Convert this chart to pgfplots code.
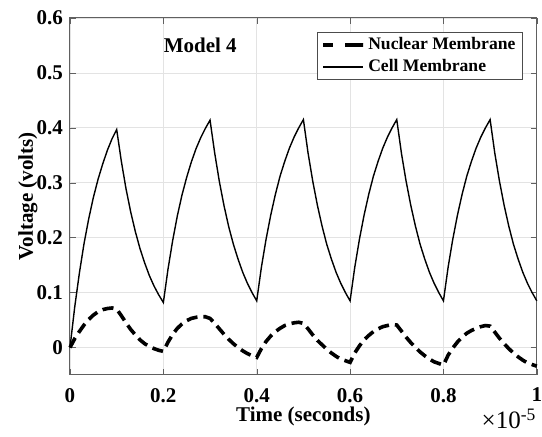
\documentclass[border=0pt]{standalone}
\usepackage{fontspec}
\setmainfont{Liberation Serif}
\usepackage{pgfplots}
\usepackage{pgfplotstable}
\pgfplotsset{compat=1.18}

% time in units of 1e-5 s
\pgfplotstableread{
t v
0.00 0.000
0.01 0.073
0.02 0.135
0.03 0.189
0.04 0.234
0.05 0.273
0.06 0.306
0.07 0.334
0.08 0.359
0.09 0.380
0.10 0.397
0.11 0.339
0.12 0.289
0.13 0.247
0.14 0.211
0.15 0.180
0.16 0.154
0.17 0.131
0.18 0.112
0.19 0.096
0.20 0.082
0.21 0.143
0.22 0.195
0.23 0.240
0.24 0.278
0.25 0.310
0.26 0.338
0.27 0.362
0.28 0.382
0.29 0.399
0.30 0.414
0.31 0.354
0.32 0.302
0.33 0.258
0.34 0.220
0.35 0.188
0.36 0.161
0.37 0.137
0.38 0.117
0.39 0.100
0.40 0.085
0.41 0.146
0.42 0.197
0.43 0.241
0.44 0.279
0.45 0.312
0.46 0.339
0.47 0.363
0.48 0.383
0.49 0.400
0.50 0.415
0.51 0.354
0.52 0.303
0.53 0.259
0.54 0.221
0.55 0.188
0.56 0.161
0.57 0.137
0.58 0.117
0.59 0.100
0.60 0.085
0.61 0.146
0.62 0.197
0.63 0.241
0.64 0.279
0.65 0.312
0.66 0.339
0.67 0.363
0.68 0.383
0.69 0.400
0.70 0.415
0.71 0.354
0.72 0.303
0.73 0.259
0.74 0.221
0.75 0.188
0.76 0.161
0.77 0.137
0.78 0.117
0.79 0.100
0.80 0.085
0.81 0.146
0.82 0.197
0.83 0.241
0.84 0.279
0.85 0.312
0.86 0.339
0.87 0.363
0.88 0.383
0.89 0.400
0.90 0.415
0.91 0.354
0.92 0.303
0.93 0.259
0.94 0.221
0.95 0.188
0.96 0.161
0.97 0.137
0.98 0.117
0.99 0.100
1.00 0.085
}\cell

\pgfplotstableread{
t v
0.00 0.000
0.01 0.016
0.02 0.029
0.03 0.041
0.04 0.051
0.05 0.059
0.06 0.065
0.07 0.069
0.08 0.071
0.09 0.072
0.10 0.070
0.11 0.058
0.12 0.045
0.13 0.033
0.14 0.023
0.15 0.014
0.16 0.007
0.17 0.002
0.18 -0.002
0.19 -0.005
0.20 -0.007
0.21 0.010
0.22 0.024
0.23 0.035
0.24 0.043
0.25 0.049
0.26 0.053
0.27 0.055
0.28 0.056
0.29 0.056
0.30 0.053
0.31 0.044
0.32 0.034
0.33 0.024
0.34 0.015
0.35 0.007
0.36 0.000
0.37 -0.006
0.38 -0.011
0.39 -0.015
0.40 -0.018
0.41 -0.002
0.42 0.011
0.43 0.021
0.44 0.029
0.45 0.035
0.46 0.040
0.47 0.043
0.48 0.045
0.49 0.046
0.50 0.044
0.51 0.034
0.52 0.023
0.53 0.013
0.54 0.005
0.55 -0.003
0.56 -0.010
0.57 -0.016
0.58 -0.021
0.59 -0.024
0.60 -0.027
0.61 -0.010
0.62 0.003
0.63 0.014
0.64 0.022
0.65 0.029
0.66 0.034
0.67 0.038
0.68 0.040
0.69 0.042
0.70 0.041
0.71 0.030
0.72 0.019
0.73 0.009
0.74 0.000
0.75 -0.008
0.76 -0.015
0.77 -0.021
0.78 -0.026
0.79 -0.029
0.80 -0.032
0.81 -0.014
0.82 -0.001
0.83 0.010
0.84 0.019
0.85 0.026
0.86 0.031
0.87 0.035
0.88 0.038
0.89 0.040
0.90 0.039
0.91 0.028
0.92 0.017
0.93 0.007
0.94 -0.002
0.95 -0.010
0.96 -0.017
0.97 -0.023
0.98 -0.028
0.99 -0.031
1.00 -0.034
}\nuclear

\begin{document}
\begin{tikzpicture}
\begin{axis}[
  at={(0,0)}, anchor=south west,
  scale only axis, width=233.4pt, height=178.5pt,
  xmin=0, xmax=1, ymin=-0.05, ymax=0.6, clip=false,
  xtick={0,0.2,0.4,0.6,0.8,1}, ytick={0,0.1,0.2,0.3,0.4,0.5,0.6},
  grid=major, major grid style={gray!22, line width=0.4pt},
  axis line style={gray!75!black, line width=0.5pt},
  tick style={gray!75!black}, tick align=inside, major tick length=3pt,
  /pgf/number format/assume math mode=true,
  ticklabel style={font=\bfseries\fontsize{10.5}{12}\selectfont},
  xticklabel style={yshift=-3pt},
  xlabel={Time (seconds)}, ylabel={Voltage (volts)},
  label style={font=\bfseries\fontsize{10.5}{12}\selectfont},
  xlabel style={at={(axis description cs:0.5,0)}, anchor=base, yshift=-23.4pt},
  ylabel style={at={(axis description cs:0,0.5)}, anchor=base, yshift=18.5pt},
  legend style={at={(0.970,0.9616)}, anchor=north east, draw=gray!60!black,
    font=\bfseries\fontsize{8.8}{10}\selectfont, inner xsep=2pt, inner ysep=1pt,
    row sep=0.5pt, nodes={inner sep=1.5pt}},
  legend cell align=left,
  legend image code/.code={\draw[#1] (0pt,0pt) -- (20pt,0pt);},
]
\addlegendimage{black, line width=1.8pt, dash pattern=on 5pt off 6pt on 9pt off 0pt}
\addlegendentry{Nuclear Membrane}
\addplot[black, line width=1.8pt, dash pattern=on 5.5pt off 3pt, forget plot] table[x=t,y=v] {\nuclear};
\addplot[black, line width=0.7pt] table[x=t,y=v] {\cell};
\addlegendentry{Cell Membrane}
\node[font=\bfseries\fontsize{10.5}{12}\selectfont] at (axis cs:0.279,0.551) {Model 4};
\node[anchor=base east, font=\fontsize{12.5}{14}\selectfont, inner sep=0pt] at (rel axis cs:1,0) [yshift=-27pt] {×10\textsuperscript{-5}};
\end{axis}
\pgfresetboundingbox
\path[use as bounding box] (-35pt,-31pt) rectangle (236pt,187.5pt);
\end{tikzpicture}
\end{document}
